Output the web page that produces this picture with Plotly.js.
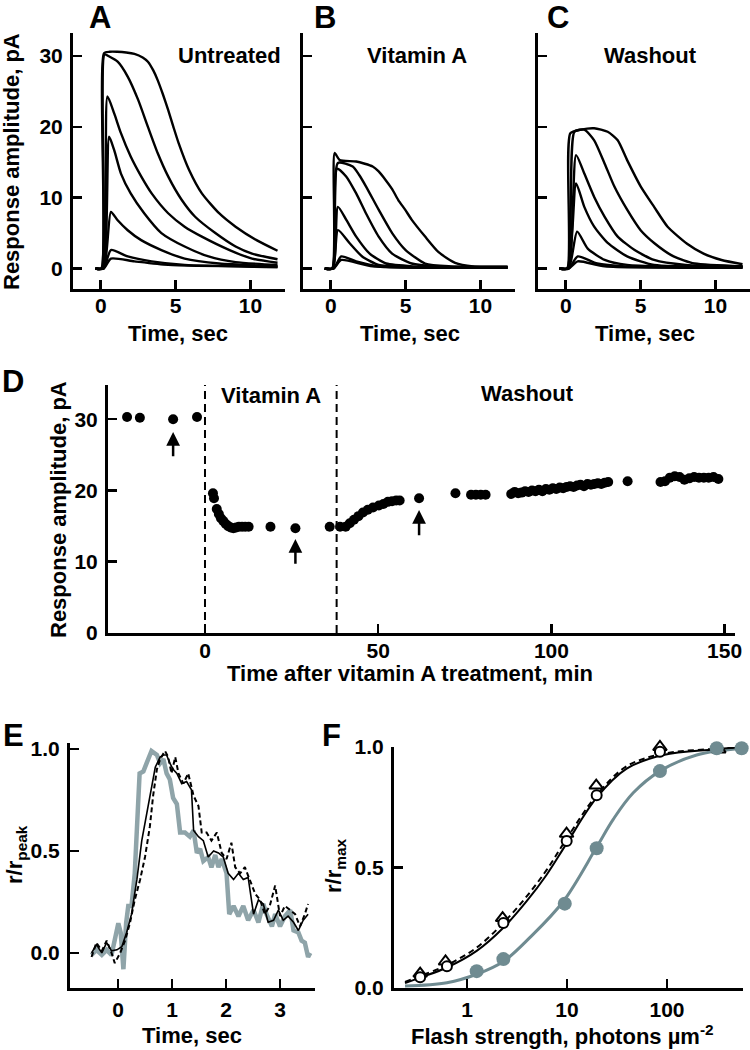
<!DOCTYPE html>
<html>
<head>
<meta charset="utf-8">
<script src="https://cdn.plot.ly/plotly-3.0.1.min.js"></script>
<style>html,body{margin:0;padding:0;background:#fff;}#plot{width:750px;height:1050px;}</style>
</head>
<body>
<div id="plot"></div>
<script>
// ---------- Panel A: Untreated (time s, response pA) ----------
const untreatedT = [
  [-0.35, 0.05, 0.22, 0.6, 1.1, 1.7, 2.25, 2.8, 3.15, 3.5, 3.8, 4.15, 4.5, 4.85, 5.2, 5.9, 6.75, 7.9, 9.0, 10.4, 11.8],
  [-0.35, 0.05, 0.25, 0.6, 1.13, 1.8, 2.5, 3.15, 3.8, 4.5, 5.4, 6.3, 7.65, 9.0, 10.1, 11.8],
  [-0.35, 0.1, 0.45, 0.9, 1.35, 2.0, 2.7, 3.4, 4.5, 5.6, 6.75, 8.6, 10.1, 11.8],
  [-0.35, 0.15, 0.56, 0.9, 1.35, 2.0, 2.9, 4.05, 5.6, 7.2, 9.0, 11.8],
  [-0.35, 0.2, 0.68, 1.13, 1.8, 2.7, 4.05, 5.6, 7.9, 11.8],
  [-0.35, 0.2, 0.68, 1.8, 3.4, 5.6, 11.8],
  [-0.35, 0.2, 0.68, 2.25, 4.5, 11.8]
];
const untreatedR = [
  [0, 0, 30.4, 30.6, 30.6, 30.5, 30.3, 29.8, 29.2, 28.0, 26.6, 24.6, 22.4, 20.0, 17.7, 13.9, 10.6, 7.8, 5.9, 4.0, 2.5],
  [0, 0, 30.2, 29.9, 29.2, 27.1, 23.8, 20.0, 16.3, 13.0, 9.7, 7.3, 5.0, 3.1, 2.1, 1.3],
  [0, 0, 24.3, 21.9, 19.1, 15.8, 13.0, 10.6, 7.8, 5.9, 4.5, 2.6, 1.4, 0.8],
  [0, 0, 18.6, 16.7, 13.4, 10.6, 7.8, 5.0, 3.1, 1.7, 0.9, 0.5],
  [0, 0, 8.0, 6.8, 5.4, 4.0, 2.6, 1.4, 0.7, 0.3],
  [0, 0, 2.6, 1.7, 1.0, 0.5, 0.2],
  [0, 0, 1.4, 1.0, 0.5, 0.2]
];
// ---------- Panel B: Vitamin A ----------
const vitaminT = [
  [-0.4, 0.1, 0.26, 0.6, 1.7, 2.8, 3.2, 3.66, 4.1, 4.5, 5.0, 5.4, 6.3, 7.2, 8.3, 9.5, 11.8],
  [-0.4, 0.12, 0.48, 1.47, 1.9, 2.35, 3.2, 4.1, 5.0, 6.3, 8.0, 11.8],
  [-0.4, 0.12, 0.42, 1.03, 1.7, 2.35, 3.2, 4.1, 5.4, 7.0, 11.8],
  [-0.4, 0.15, 0.48, 1.03, 1.7, 2.6, 3.7, 5.5, 11.8],
  [-0.4, 0.15, 0.48, 1.25, 2.1, 3.2, 5.0, 11.8],
  [-0.4, 0.2, 0.7, 1.7, 3.2, 11.8],
  [-0.4, 0.2, 0.7, 2.8, 11.8]
];
const vitaminR = [
  [0, 0, 16.3, 15.3, 15.1, 14.4, 13.7, 12.5, 11.2, 9.7, 8.2, 6.9, 4.5, 2.3, 0.8, 0.3, 0.2],
  [0, 0, 14.9, 14.4, 13.2, 11.6, 8.3, 5.0, 2.6, 0.7, 0.3, 0.2],
  [0, 0, 14.1, 13.0, 10.6, 7.8, 4.5, 2.1, 0.7, 0.3, 0.2],
  [0, 0, 8.7, 6.9, 4.5, 2.1, 0.7, 0.3, 0.2],
  [0, 0, 5.4, 3.6, 1.7, 0.5, 0.2, 0.1],
  [0, 0, 1.7, 1.0, 0.3, 0.1],
  [0, 0, 1.2, 0.3, 0.1]
];
// ---------- Panel C: Washout ----------
const washoutT = [
  [-0.42, 0.1, 0.31, 1.02, 1.9, 2.8, 3.47, 4.1, 5.0, 5.9, 6.8, 8.1, 9.2, 10.4, 11.8],
  [-0.42, 0.12, 0.58, 1.24, 1.9, 2.6, 3.24, 4.1, 5.0, 5.9, 7.2, 8.6, 11.8],
  [-0.42, 0.15, 0.69, 1.24, 1.9, 2.6, 3.47, 4.6, 5.9, 8.0, 11.8],
  [-0.42, 0.15, 0.69, 1.24, 1.9, 2.8, 4.1, 5.9, 11.8],
  [-0.42, 0.2, 0.76, 1.47, 2.6, 4.1, 11.8],
  [-0.42, 0.2, 0.8, 2.1, 4.0, 11.8],
  [-0.42, 0.2, 0.8, 2.6, 11.8]
];
const washoutR = [
  [0, 0, 19.1, 19.6, 19.8, 19.3, 18.1, 15.3, 11.6, 8.7, 5.9, 3.5, 2.1, 1.2, 0.6],
  [0, 0, 19.3, 19.6, 18.1, 14.8, 11.6, 8.3, 5.4, 3.6, 1.7, 0.7, 0.3],
  [0, 0, 16.0, 13.4, 10.1, 7.3, 4.5, 2.6, 1.2, 0.5, 0.3],
  [0, 0, 12.0, 8.7, 5.9, 3.6, 1.7, 0.5, 0.3],
  [0, 0, 5.2, 2.8, 1.2, 0.5, 0.2],
  [0, 0, 1.7, 0.7, 0.3, 0.1],
  [0, 0, 1.0, 0.3, 0.1]
];
// ---------- Panel D: amplitude vs time after treatment ----------
const timeMin = [-22.5, -18.8, -9.2, -2.3, 2.3, 2.6, 3.4, 4.0, 4.6, 5.3, 6.0, 6.7, 7.4, 8.2, 9.0, 9.8, 10.7, 11.6, 12.6, 18.9, 26.1, 36.0,
  39.0, 40.6, 41.8, 43.0, 44.3, 45.6, 47.0, 48.5, 50.2, 51.5, 52.8, 54.0, 55.2, 56.2, 61.8, 72.3, 76.8, 78.2, 79.6, 81.0,
  88.4, 89.4, 90.4, 91.4, 92.4, 93.4, 94.4, 95.4, 96.4, 97.4, 98.4, 99.4, 100.4, 101.4, 102.4, 103.4, 104.4, 105.4, 106.4,
  107.4, 108.4, 109.4, 110.4, 111.4, 112.4, 113.4, 114.4, 115.4, 116.4, 122.0, 131.5, 132.8, 134.2, 135.6, 137.0, 138.4,
  139.8, 141.2, 142.6, 144.0, 145.4, 146.8, 148.2];
const amplitude = [30.3, 30.2, 30.0, 30.3, 19.6, 18.9, 17.4, 16.7, 16.1, 15.7, 15.3, 15.0, 14.8, 14.7, 14.8, 14.9, 14.9, 14.9, 14.9, 14.9, 14.7, 14.9,
  14.9, 14.9, 15.4, 15.9, 16.4, 16.9, 17.3, 17.6, 17.9, 18.1, 18.4, 18.5, 18.6, 18.6, 18.9, 19.6, 19.4, 19.4, 19.4, 19.4,
  19.5, 19.8, 19.6, 19.7, 19.9, 19.8, 20.0, 19.9, 20.1, 19.9, 20.2, 20.1, 20.3, 20.2, 20.4, 20.3, 20.5, 20.6, 20.5,
  20.7, 20.8, 20.6, 20.9, 20.8, 20.9, 21.0, 20.9, 21.1, 21.2, 21.3, 21.2, 21.3, 21.8, 22.0, 21.9, 21.5,
  21.7, 21.9, 21.8, 21.8, 21.8, 21.9, 21.6];
const arrowTimes = [-9.2, 26.1, 61.8];
const arrowTips = [28.2, 13.2, 17.25];
const arrowTails = [24.6, 9.5, 13.5];
const treatmentBounds = [0, 38];
// ---------- Panel E: normalized responses ----------
const eTimeSolid = [-0.49, -0.40, -0.30, -0.21, -0.12, -0.02, 0.07, 0.16, 0.25, 0.35, 0.44, 0.53, 0.62, 0.69, 0.78, 0.84, 0.90, 0.96, 1.02, 1.09, 1.18, 1.27, 1.36, 1.40, 1.49, 1.58, 1.67, 1.77, 1.86, 1.95, 2.04, 2.14, 2.23, 2.32, 2.41, 2.51, 2.60, 2.69, 2.78, 2.88, 2.97, 3.06, 3.15, 3.25, 3.34, 3.43, 3.52];
const eSolid = [0.0, 0.04, 0.0, 0.05, 0.01, 0.015, 0.03, 0.10, 0.19, 0.36, 0.55, 0.68, 0.82, 0.91, 0.96, 0.97, 0.97, 0.93, 0.90, 0.88, 0.83, 0.84, 0.80, 0.60, 0.57, 0.55, 0.47, 0.50, 0.49, 0.47, 0.39, 0.36, 0.39, 0.36, 0.37, 0.19, 0.26, 0.24, 0.15, 0.16, 0.21, 0.16, 0.18, 0.15, 0.11, 0.16, 0.19];
const eTimeDash = [-0.49, -0.40, -0.30, -0.21, -0.12, -0.06, 0.04, 0.13, 0.22, 0.31, 0.41, 0.50, 0.59, 0.65, 0.72, 0.78, 0.87, 0.93, 0.99, 1.06, 1.12, 1.21, 1.30, 1.40, 1.49, 1.55, 1.64, 1.73, 1.83, 1.92, 2.01, 2.10, 2.17, 2.26, 2.35, 2.44, 2.54, 2.63, 2.72, 2.81, 2.91, 3.00, 3.09, 3.19, 3.28, 3.37, 3.46, 3.52];
const eDash = [-0.02, 0.05, 0.01, 0.06, 0.0, -0.05, 0.0, 0.06, 0.145, 0.26, 0.36, 0.47, 0.62, 0.77, 0.90, 0.95, 0.99, 0.96, 0.88, 0.96, 0.88, 0.83, 0.88, 0.77, 0.72, 0.59, 0.59, 0.55, 0.59, 0.49, 0.46, 0.54, 0.42, 0.39, 0.42, 0.36, 0.29, 0.26, 0.19, 0.23, 0.33, 0.18, 0.23, 0.21, 0.19, 0.13, 0.19, 0.24];
const eTimeGray = [-0.49, -0.40, -0.30, -0.21, -0.12, -0.06, 0.006, 0.05, 0.10, 0.15, 0.19, 0.25, 0.31, 0.40, 0.47, 0.53, 0.62, 0.72, 0.78, 0.84, 0.90, 0.96, 1.02, 1.09, 1.15, 1.24, 1.33, 1.40, 1.46, 1.52, 1.58, 1.67, 1.73, 1.80, 1.86, 1.92, 2.01, 2.06, 2.14, 2.23, 2.32, 2.41, 2.51, 2.60, 2.69, 2.75, 2.85, 2.91, 3.00, 3.09, 3.19, 3.25, 3.34, 3.40, 3.46, 3.52, 3.56];
const eGray = [-0.01, 0.015, -0.01, 0.015, -0.01, 0.055, 0.145, 0.10, -0.08, 0.145, 0.23, 0.23, 0.39, 0.88, 0.89, 0.93, 0.99, 0.97, 0.93, 0.95, 0.88, 0.85, 0.76, 0.73, 0.59, 0.59, 0.57, 0.60, 0.49, 0.51, 0.45, 0.47, 0.42, 0.48, 0.42, 0.46, 0.39, 0.19, 0.23, 0.18, 0.23, 0.16, 0.21, 0.15, 0.24, 0.19, 0.13, 0.19, 0.13, 0.18, 0.21, 0.11, 0.10, 0.06, 0.05, -0.02, 0.0];
// ---------- Panel F: intensity-response ----------
const fluxOpenCircle = [0.34, 0.63, 2.31, 9.93, 19.8, 85];
const rOpenCircle = [0.045, 0.09, 0.27, 0.61, 0.80, 0.98];
const fluxTriangle = [0.34, 0.61, 2.27, 9.9, 19.6, 85, 330];
const rTriangle = [0.06, 0.11, 0.29, 0.64, 0.84, 1.0, 0.99];
const fluxGray = [1.25, 2.31, 9.5, 19.8, 85, 314, 558];
const rGray = [0.07, 0.12, 0.35, 0.58, 0.90, 0.995, 0.995];
const fitFlux = [0.24, 0.34, 0.63, 1.25, 2.31, 3.95, 6.26, 9.93, 19.8, 39.5, 91.9, 290, 580];
const fitBlack = [0.02, 0.043, 0.085, 0.154, 0.25, 0.36, 0.47, 0.60, 0.79, 0.91, 0.967, 0.99, 1.0];
const fitDashed = [0.025, 0.05, 0.095, 0.168, 0.27, 0.38, 0.49, 0.62, 0.80, 0.92, 0.972, 0.992, 1.0];
const fitGrayFlux = [0.24, 0.63, 1.25, 2.31, 4.27, 9.2, 19.8, 29, 46, 85, 198, 580];
const fitGray = [0.008, 0.022, 0.057, 0.11, 0.21, 0.36, 0.585, 0.70, 0.81, 0.90, 0.967, 0.995];
// ---------- tick labels ----------
const secTicks = [0, 5, 10];
const pATicks = [0, 10, 20, 30];
const minTicks = [0, 50, 100, 150];
const eSecTicks = [0, 1, 2, 3];
const ratioTicks = [0, 0.5, 1];
const ratioLabels = ['0.0', '0.5', '1.0'];
const fluxTicks = [1, 10, 100];

// ---------- build ----------
const W = 750, H = 1050;
const px = x => x / W, py = y => 1 - y / H;
const FONT = 'Liberation Sans, Arial, Helvetica, sans-serif';
const GRAY_MARK = '#6f8b91';
const GRAY_LINE = '#8fa4a9';
const bold = arr => arr.map(s => '<b>' + s + '</b>');

const traces = [];
function addCurves(T, R, xa, ya) {
  for (let i = 0; i < T.length; i++) {
    traces.push({x: T[i], y: R[i], xaxis: xa, yaxis: ya, type: 'scatter', mode: 'lines',
      line: {color: '#000', width: 2.4, shape: 'spline', smoothing: 0.6}, hoverinfo: 'skip'});
  }
}
addCurves(untreatedT, untreatedR, 'x', 'y');
addCurves(vitaminT, vitaminR, 'x2', 'y2');
addCurves(washoutT, washoutR, 'x3', 'y3');

traces.push({x: timeMin, y: amplitude, xaxis: 'x4', yaxis: 'y4', type: 'scatter', mode: 'markers',
  marker: {color: '#000', size: 10}, cliponaxis: false});

traces.push({x: eTimeGray, y: eGray, xaxis: 'x5', yaxis: 'y5', type: 'scatter', mode: 'lines',
  line: {color: GRAY_LINE, width: 4.5}});
traces.push({x: eTimeDash, y: eDash, xaxis: 'x5', yaxis: 'y5', type: 'scatter', mode: 'lines',
  line: {color: '#000', width: 2, dash: '5px,3px'}});
traces.push({x: eTimeSolid, y: eSolid, xaxis: 'x5', yaxis: 'y5', type: 'scatter', mode: 'lines',
  line: {color: '#000', width: 1.6}});

traces.push({x: fitGrayFlux, y: fitGray, xaxis: 'x6', yaxis: 'y6', type: 'scatter', mode: 'lines',
  line: {color: GRAY_MARK, width: 3, shape: 'spline'}, cliponaxis: false});
traces.push({x: fitFlux, y: fitDashed, xaxis: 'x6', yaxis: 'y6', type: 'scatter', mode: 'lines',
  line: {color: '#000', width: 2, dash: '6px,4px', shape: 'spline'}, cliponaxis: false});
traces.push({x: fitFlux, y: fitBlack, xaxis: 'x6', yaxis: 'y6', type: 'scatter', mode: 'lines',
  line: {color: '#000', width: 2, shape: 'spline'}, cliponaxis: false});
traces.push({x: fluxTriangle, y: rTriangle, xaxis: 'x6', yaxis: 'y6', type: 'scatter', mode: 'markers',
  marker: {symbol: 'triangle-up', size: 12, color: '#fff', line: {color: '#000', width: 2}}, cliponaxis: false});
traces.push({x: fluxOpenCircle, y: rOpenCircle, xaxis: 'x6', yaxis: 'y6', type: 'scatter', mode: 'markers',
  marker: {symbol: 'circle', size: 10, color: '#fff', line: {color: '#000', width: 2}}, cliponaxis: false});
traces.push({x: fluxGray, y: rGray, xaxis: 'x6', yaxis: 'y6', type: 'scatter', mode: 'markers',
  marker: {symbol: 'circle', size: 14, color: GRAY_MARK}, cliponaxis: false});

function axis(domain, range, vals, labels, extra) {
  return Object.assign({
    domain: domain, range: range, showline: true, linewidth: 3, linecolor: '#000',
    ticks: 'inside', ticklen: 9, tickwidth: 2.5, tickcolor: '#000',
    showgrid: false, zeroline: false, fixedrange: true,
    tickmode: 'array', tickvals: vals, ticktext: bold(labels),
    tickfont: {family: FONT, size: 21, color: '#000'}
  }, extra || {});
}

const abcY = [py(289), py(33)];
const abcRangeX = [-1.85, 12.3];
const abcRangeY = [-2.9, 33.25];

const layout = {
  width: W, height: H, margin: {l: 0, r: 0, t: 0, b: 0},
  paper_bgcolor: '#fff', plot_bgcolor: 'rgba(0,0,0,0)', showlegend: false,
  font: {family: FONT, size: 21, color: '#000'},
  xaxis: axis([px(73), px(285)], abcRangeX, secTicks, secTicks, {anchor: 'y', ticklabelstandoff: -4}),
  yaxis: axis(abcY, abcRangeY, pATicks, pATicks, {anchor: 'x', ticklabelstandoff: 3}),
  xaxis2: axis([px(303), px(515)], abcRangeX, secTicks, secTicks, {anchor: 'y2', ticklabelstandoff: -4}),
  yaxis2: axis(abcY, abcRangeY, pATicks, pATicks, {anchor: 'x2', showticklabels: false}),
  xaxis3: axis([px(538), px(750)], abcRangeX, secTicks, secTicks, {anchor: 'y3', ticklabelstandoff: -4}),
  yaxis3: axis(abcY, abcRangeY, pATicks, pATicks, {anchor: 'x3', showticklabels: false}),
  xaxis4: axis([px(108), px(735)], [-28, 153], minTicks, minTicks, {anchor: 'y4', ticklabelstandoff: -3}),
  yaxis4: axis([py(633), py(385)], [0, 34.8], pATicks, pATicks, {anchor: 'x4', ticklabelstandoff: 3}),
  xaxis5: axis([px(70), px(315)], [-0.889, 3.648], eSecTicks, eSecTicks, {anchor: 'y5', ticklabelstandoff: 1}),
  yaxis5: axis([py(988), py(743)], [-0.172, 1.029], ratioTicks, ratioLabels, {anchor: 'x5', ticklabelstandoff: 3}),
  xaxis6: axis([px(394), px(743)], [-0.73, 2.76], fluxTicks, fluxTicks, {anchor: 'y6', type: 'log', ticklabelstandoff: 1}),
  yaxis6: axis([py(988), py(747)], [0, 1.0], ratioTicks, ratioLabels, {anchor: 'x6', ticklabelstandoff: 3}),
  shapes: treatmentBounds.map(b => ({type: 'line', xref: 'x4', yref: 'y4', x0: b, x1: b, y0: 0, y1: 34.8,
    line: {color: '#000', width: 2, dash: '8px,5px'}})),
  annotations: []
};

const A = layout.annotations;
function txt(text, x, y, size, opts) {
  A.push(Object.assign({text: '<b>' + text + '</b>', xref: 'paper', yref: 'paper', x: px(x), y: py(y), showarrow: false,
    xanchor: 'center', yanchor: 'middle', font: {family: FONT, size: size, color: '#000'}}, opts || {}));
}
// panel letters
txt('A', 100, 18, 31); txt('B', 325, 18, 31); txt('C', 558, 18, 31);
txt('D', 13, 381, 31); txt('E', 13, 735, 31); txt('F', 331, 735, 31);
// panel captions
txt('Untreated', 230, 55, 22); txt('Vitamin A', 417, 55, 22); txt('Washout', 650, 55, 22);
txt('Vitamin A', 271, 395, 22); txt('Washout', 527, 393, 22);
// axis titles
txt('Time, sec', 178, 333, 22); txt('Time, sec', 410, 333, 22); txt('Time, sec', 645, 333, 22);
txt('Response amplitude, pA', 12, 162, 22, {textangle: -90});
txt('Response amplitude, pA', 58, 510, 22, {textangle: -90});
txt('Time after vitamin A treatment, min', 410, 673, 22);
txt('Time, sec', 192, 1035, 22);
txt('r/r<sub>peak</sub>', 16, 855, 22, {textangle: -90});
txt('r/r<sub>max</sub>', 335, 866, 22, {textangle: -90});
txt('Flash strength, photons µm<sup>-2</sup>', 562, 1035, 22);
// arrows in D
for (let i = 0; i < arrowTimes.length; i++) {
  A.push({xref: 'x4', yref: 'y4', axref: 'x4', ayref: 'y4', x: arrowTimes[i], y: arrowTips[i],
    ax: arrowTimes[i], ay: arrowTails[i], text: '', showarrow: true, arrowhead: 2, arrowsize: 1.1,
    arrowwidth: 2.5, arrowcolor: '#000', standoff: 0, startstandoff: 0});
}

Plotly.newPlot('plot', traces, layout, {staticPlot: true, displayModeBar: false});
</script>
</body>
</html>
